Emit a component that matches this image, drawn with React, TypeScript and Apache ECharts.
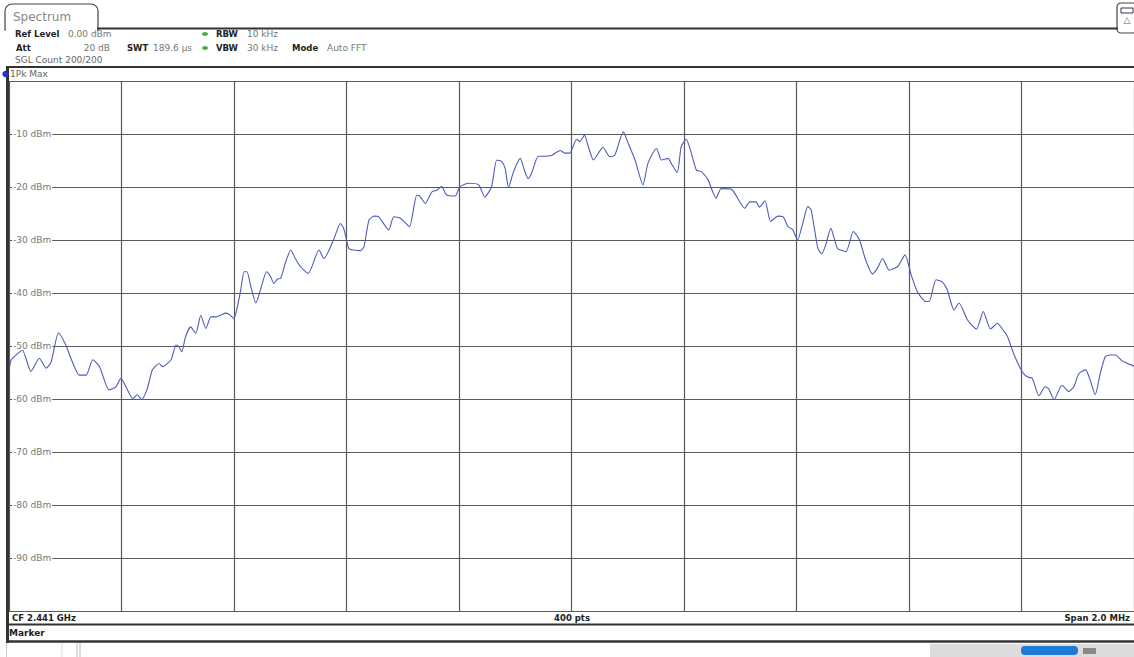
import React, { useEffect, useRef } from "react";
import * as echarts from "echarts";

// Frequency offset from CF 2.441 GHz (kHz) and trace level (dBm)
const freqOffsetsKHz = [
  -1000, -996, -981, -976, -961, -946, -934, -925, -912, -899, -890, -875, -863, -851, -839, -822,
  -810, -801, -792, -780, -772, -764, -754, -745, -733, -727, -712, -703, -698, -693, -686, -677,
  -668, -659, -650, -641, -632, -624, -615, -609, -600, -594, -588, -582, -577, -570, -561, -553,
  -542, -535, -529, -523, -517, -508, -499, -491, -482, -468, -449, -440, -423, -411, -405, -396,
  -387, -375, -369, -360, -351, -343, -325, -316, -304, -298, -288, -275, -269, -260, -248, -239,
  -231, -222, -207, -198, -183, -165, -154, -142, -133, -124, -118, -112, -103, -91, -83, -77,
  -71, -59, -47, -35, -20, -12, -3, 9, 15, 23, 30, 39, 56, 68, 77, 92,
  101, 113, 127, 136, 151, 160, 172, 177, 188, 195, 204, 213, 222, 231, 243, 257,
  266, 284, 308, 317, 328, 334, 344, 354, 367, 376, 385, 393, 402, 411, 420, 426,
  438, 445, 452, 461, 473, 488, 501, 512, 523, 535, 544, 553, 565, 580, 593, 604,
  615, 630, 636, 648, 659, 668, 680, 689, 704, 720, 732, 745, 757, 766, 775, 787,
  801, 810, 819, 831, 842, 848, 858, 872, 884, 893, 902, 914, 922, 931, 940, 949,
  958, 967, 979, 995, 1000,
];
const levelsDbm = [
  -54.8, -52.6, -51.1, -50.8, -54.8, -52.3, -54.2, -53.0, -47.5, -49.8, -52.3, -55.5, -55.5, -52.6, -53.9, -58.3,
  -57.7, -56.1, -57.7, -59.9, -59.2, -60.1, -58.0, -54.5, -53.3, -53.9, -52.6, -49.8, -50.1, -51.1, -48.2, -46.4,
  -47.6, -44.2, -46.7, -44.5, -44.5, -44.2, -43.8, -44.0, -44.8, -42.6, -39.4, -36.0, -36.0, -38.8, -41.9, -39.4,
  -36.0, -36.9, -38.2, -37.4, -37.2, -34.1, -31.9, -33.5, -35.0, -36.3, -31.9, -33.5, -30.0, -26.9, -27.8, -31.6,
  -31.9, -32.0, -31.3, -26.2, -25.5, -25.6, -28.1, -25.6, -25.9, -26.5, -27.5, -21.5, -21.8, -23.1, -20.9, -20.6,
  -19.9, -21.5, -21.7, -19.9, -19.3, -19.6, -21.9, -19.9, -14.9, -15.2, -16.5, -20.1, -17.1, -14.6, -17.1, -18.4,
  -17.4, -14.2, -14.2, -14.0, -13.1, -13.6, -13.6, -11.0, -11.4, -10.2, -12.4, -14.9, -12.5, -14.3, -14.0, -9.6,
  -11.8, -14.9, -19.6, -15.5, -12.7, -14.9, -14.6, -15.5, -17.3, -12.4, -11.0, -13.6, -16.8, -17.1, -18.7, -22.1,
  -20.3, -20.4, -24.0, -22.8, -22.8, -23.8, -22.6, -26.5, -25.5, -25.6, -27.5, -28.0, -30.0, -26.9, -23.7, -24.3,
  -31.6, -32.6, -30.9, -27.8, -31.6, -32.2, -28.4, -30.0, -33.8, -36.4, -35.3, -33.5, -35.7, -35.0, -32.8, -36.6,
  -39.8, -41.6, -41.6, -37.5, -37.9, -39.4, -43.2, -41.9, -45.1, -46.8, -43.5, -46.8, -45.7, -46.8, -48.2, -51.7,
  -54.8, -55.8, -56.1, -59.4, -57.7, -58.0, -60.1, -57.4, -58.6, -57.7, -55.2, -54.5, -56.4, -59.2, -55.2, -52.0,
  -51.7, -51.7, -52.8, -53.6, -53.8,
];

const yMin = -100;
const yMax = 0;
const yStep = 10;
const xMin = -1000;
const xMax = 1000;
const xStep = 200;

const FONT = "DejaVu Sans, Verdana, sans-serif";

function txt(x: number, y: number, text: string, opts: any = {}) {
  return {
    type: "text",
    x,
    y,
    silent: true,
    z: 10,
    style: {
      text,
      fill: opts.fill || "#222",
      fontSize: opts.size || 9,
      fontWeight: opts.bold ? "bold" : "normal",
      fontFamily: FONT,
      textAlign: opts.align || "left",
      textVerticalAlign: "middle",
    },
  };
}

function ln(x1: number, y1: number, x2: number, y2: number, stroke = "#333", w = 1) {
  return {
    type: "line",
    silent: true,
    z: 9,
    shape: { x1, y1, x2, y2 },
    style: { stroke, lineWidth: w },
  };
}

export default function App() {
  const ref = useRef<HTMLDivElement>(null);

  useEffect(() => {
    if (!ref.current) return;
    const chart = echarts.init(ref.current, null, { renderer: "svg" });
    const data = freqOffsetsKHz.map((f, i) => [f, levelsDbm[i]]);

    const graphic: any[] = [
      // Spectrum tab
      {
        type: "rect",
        silent: true,
        z: 8,
        shape: { x: 5, y: 4, width: 93, height: 26, r: [7, 7, 0, 0] },
        style: { fill: "#fff", stroke: "#444", lineWidth: 1.2 },
      },
      ln(6, 30, 97, 30, "#fff", 2),
      txt(13, 17, "Spectrum", { size: 12, fill: "#888" }),
      ln(97, 28.5, 1118, 28.5, "#333", 1.8),
      // right icon
      {
        type: "rect",
        silent: true,
        z: 8,
        shape: { x: 1117, y: 3, width: 20, height: 30, r: 4 },
        style: { fill: "#fff", stroke: "#444", lineWidth: 1.2 },
      },
      {
        type: "rect",
        silent: true,
        z: 10,
        shape: { x: 1121, y: 8, width: 12, height: 5 },
        style: { fill: "#fff", stroke: "#335", lineWidth: 1 },
      },
      ln(1125, 8, 1125, 13, "#335", 1),
      ln(1129, 8, 1129, 13, "#335", 1),
      txt(1127, 20, "△", { size: 9, fill: "#666", align: "center" }),
      // header texts
      txt(15, 34, "Ref Level", { bold: true, size: 8.5 }),
      txt(68, 34, "0.00 dBm", { fill: "#777" }),
      txt(16, 48, "Att", { bold: true, size: 8.5 }),
      txt(110, 48, "20 dB", { fill: "#777", align: "right" }),
      txt(127, 48, "SWT", { bold: true, size: 8.5 }),
      txt(153, 48, "189.6 µs", { fill: "#777" }),
      {
        type: "ellipse",
        silent: true,
        z: 10,
        shape: { cx: 205, cy: 34, rx: 3, ry: 2 },
        style: { fill: "#4caf50" },
      },
      {
        type: "ellipse",
        silent: true,
        z: 10,
        shape: { cx: 205, cy: 48, rx: 3, ry: 2 },
        style: { fill: "#4caf50" },
      },
      txt(216, 34, "RBW", { bold: true, size: 8.5 }),
      txt(247, 34, "10 kHz", { fill: "#777" }),
      txt(216, 48, "VBW", { bold: true, size: 8.5 }),
      txt(247, 48, "30 kHz", { fill: "#777" }),
      txt(292, 48, "Mode", { bold: true, size: 8.5 }),
      txt(327, 48, "Auto FFT", { fill: "#777" }),
      txt(15, 60, "SGL Count 200/200", { fill: "#666" }),
      // header separator
      ln(6, 67, 1134, 67, "#333", 2),
      // left frame
      ln(7.5, 66, 7.5, 643, "#333", 3),
      {
        type: "circle",
        silent: true,
        z: 11,
        shape: { cx: 5.5, cy: 74, r: 3.2 },
        style: { fill: "#2233cc" },
      },
      txt(10, 74, "1Pk Max", { fill: "#666" }),
      // bottom rows
      txt(12, 618, "CF 2.441 GHz", { bold: true, size: 8.5 }),
      txt(572, 618, "400 pts", { bold: true, size: 8.5, align: "center" }),
      txt(1130, 618, "Span 2.0 MHz", { bold: true, size: 8.5, align: "right" }),
      ln(6, 624.5, 1134, 624.5, "#333", 2),
      txt(9, 633, "Marker", { bold: true, size: 9 }),
      ln(6, 641.5, 1134, 641.5, "#333", 2.5),
      // below bottom
      ln(6.5, 643, 6.5, 657, "#ccc", 1),
      ln(62, 643, 62, 657, "#ddd", 1),
      ln(77, 643, 77, 657, "#bbb", 1),
      ln(80, 643, 80, 657, "#bbb", 1),
      {
        type: "rect",
        silent: true,
        z: 8,
        shape: { x: 930, y: 644, width: 204, height: 13 },
        style: { fill: "#dcdcdc" },
      },
      {
        type: "rect",
        silent: true,
        z: 10,
        shape: { x: 1021, y: 646, width: 57, height: 9, r: 4 },
        style: { fill: "#1e7ad6" },
      },
      ...[1028, 1035, 1042, 1049, 1056, 1063, 1070].map((x) => ln(x, 647, x, 654, "#9cc8f2", 1)),
      {
        type: "rect",
        silent: true,
        z: 10,
        shape: { x: 1083, y: 648, width: 13, height: 6 },
        style: { fill: "#888" },
      },
    ];

    chart.setOption({
      animation: false,
      backgroundColor: "#ffffff",
      grid: { left: 9, top: 81, width: 1130, height: 530, containLabel: false },
      xAxis: {
        type: "value",
        min: xMin,
        max: xMax,
        interval: xStep,
        axisLine: { show: false },
        axisTick: { show: false },
        axisLabel: { show: false },
        splitLine: { show: true, lineStyle: { color: "#5a5a5a", width: 1.2 } },
      },
      yAxis: {
        type: "value",
        min: yMin,
        max: yMax,
        interval: yStep,
        axisLine: { show: false },
        axisTick: { show: false },
        axisLabel: {
          inside: true,
          margin: 3,
          color: "#777",
          fontSize: 9,
          fontFamily: FONT,
          backgroundColor: "#fff",
          padding: [0, 1, 0, 1],
          formatter: (v: number) => (v === yMin || v === yMax ? "" : `${v} dBm`),
        },
        splitLine: { show: true, lineStyle: { color: "#5a5a5a", width: 1.2 } },
      },
      series: [
        {
          type: "line",
          data,
          showSymbol: false,
          smooth: 0.2,
          lineStyle: { color: "#4f5bb8", width: 1.1 },
          z: 5,
        },
      ],
      graphic,
    });

    return () => chart.dispose();
  }, []);

  return (
    <div
      ref={ref}
      style={{ position: "fixed", left: 0, top: 0, width: 1134, height: 657, background: "#fff" }}
    />
  );
}
